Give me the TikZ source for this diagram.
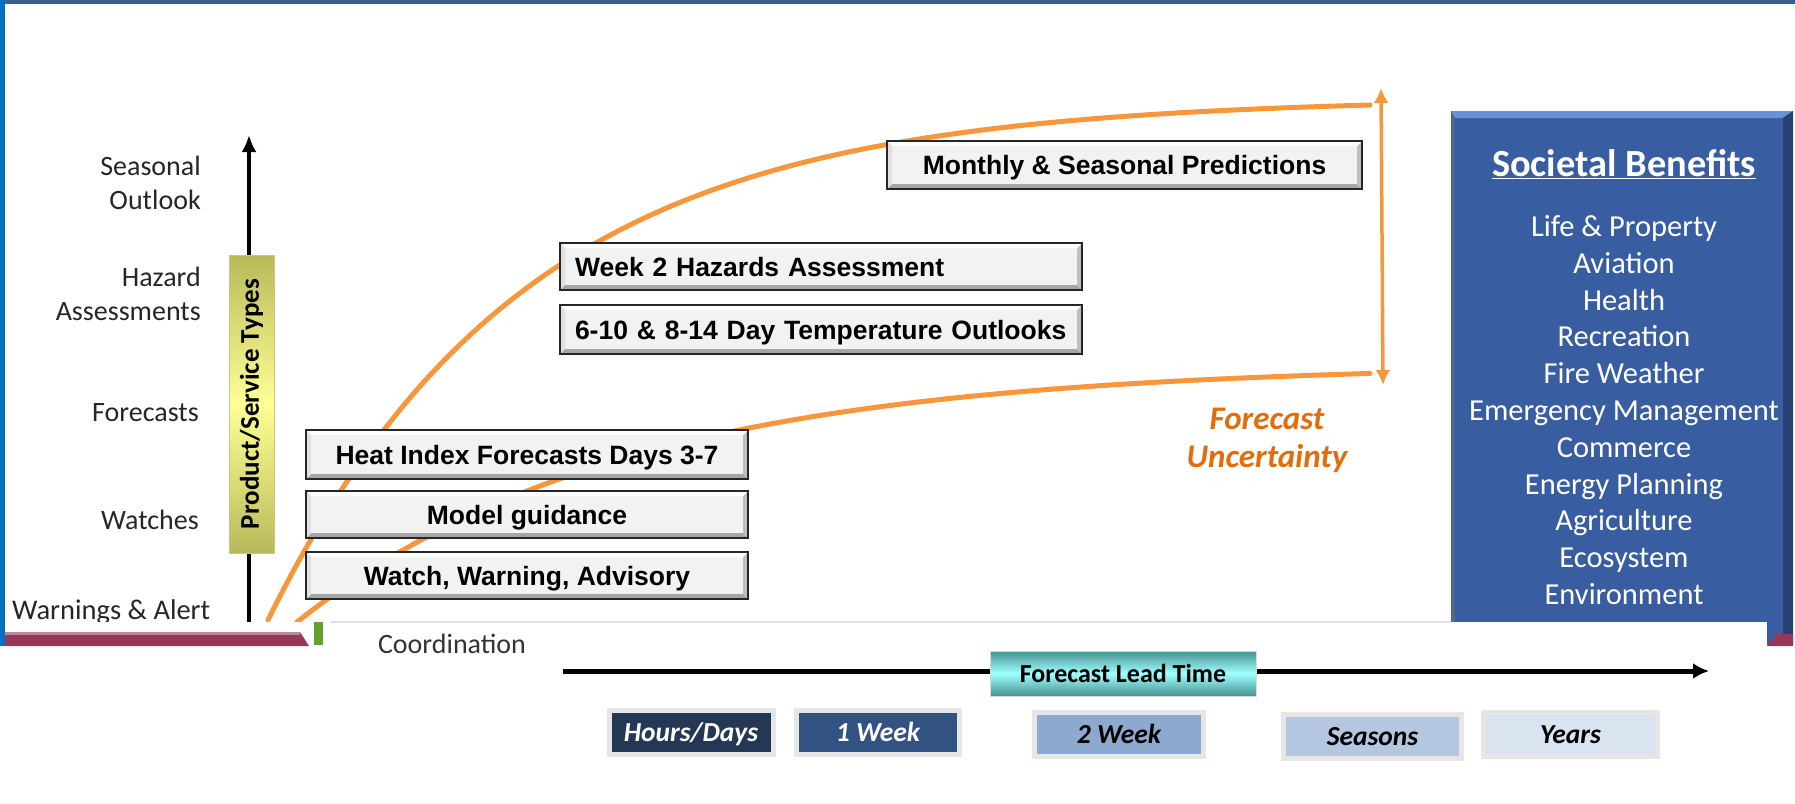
\documentclass[tikz,border=0pt]{standalone}
\usepackage{fontspec}
\setmainfont{Carlito}
\newfontfamily\arialf{Liberation Sans}
\usetikzlibrary{arrows.meta}
\definecolor{orng}{RGB}{248,150,60}
\definecolor{unc}{RGB}{228,108,10}
\definecolor{sbblue}{RGB}{56,93,160}
\definecolor{sblight}{RGB}{105,145,215}
\definecolor{sbdark}{RGB}{38,64,112}
\definecolor{mroon}{RGB}{146,56,88}
\definecolor{topbar}{RGB}{60,95,140}
\definecolor{leftbar}{RGB}{0,112,192}
\definecolor{hdays}{RGB}{36,56,86}
\definecolor{wkone}{RGB}{50,82,130}
\definecolor{wktwo}{RGB}{142,169,208}
\definecolor{seas}{RGB}{180,198,224}
\definecolor{yrs}{RGB}{218,227,240}
\definecolor{frm}{RGB}{230,230,230}
\definecolor{yedge}{RGB}{185,185,90}
\definecolor{ymid}{RGB}{255,255,150}
\definecolor{cedge}{RGB}{70,145,145}
\definecolor{cmid}{RGB}{160,255,255}
\definecolor{grn}{RGB}{100,160,50}
\tikzset{
  prodbox/.style={draw=black!85, line width=2.5pt, fill=black!5, inner sep=0pt,
    text height=19pt, text depth=0pt,
    font=\arialf\bfseries\fontsize{26.5}{30}\selectfont,
    path picture={
      \fill[black!35] (path picture bounding box.south west) -- (path picture bounding box.south east)
        -- ([shift={(-5pt,5pt)}]path picture bounding box.south east) -- ([shift={(5pt,5pt)}]path picture bounding box.south west) -- cycle;
      \fill[black!25] (path picture bounding box.south east) -- (path picture bounding box.north east)
        -- ([shift={(-5pt,-5pt)}]path picture bounding box.north east) -- ([shift={(-5pt,5pt)}]path picture bounding box.south east) -- cycle;
      \fill[white] (path picture bounding box.north west) -- (path picture bounding box.north east)
        -- ([shift={(-5pt,-5pt)}]path picture bounding box.north east) -- ([shift={(5pt,-5pt)}]path picture bounding box.north west) -- cycle;
      \fill[black!12] (path picture bounding box.north west) -- (path picture bounding box.south west)
        -- ([shift={(5pt,5pt)}]path picture bounding box.south west) -- ([shift={(5pt,-5pt)}]path picture bounding box.north west) -- cycle;
    }},
  leftlab/.style={anchor=east, inner sep=0pt, text height=18pt, text depth=0pt,
    font=\fontsize{28}{33}\selectfont, text=black!85},
  timebox/.style={draw=frm, line width=5pt, inner sep=0pt, minimum height=44pt,
    text height=18pt, text depth=0pt, font=\bfseries\itshape\fontsize{27.5}{30}\selectfont},
  sbitem/.style={inner sep=0pt, text=white, text height=19pt, text depth=0pt, font=\fontsize{30.5}{36}\selectfont},
  curve/.style={orng, line width=5pt, line cap=round}
}
\begin{document}
\begin{tikzpicture}[x=1pt,y=-1pt]
\useasboundingbox (0,0) rectangle (1795,803);
\fill[white] (0,0) rectangle (1795,803);

% left labels
\node[leftlab] (l1a) at (201,166) {Seasonal};
\node[leftlab] (l1b) at (201,200) {Outlook};
\node[leftlab] (l2a) at (201,277) {Hazard};
\node[leftlab] (l2b) at (201,311) {Assessments};
\node[leftlab] (l3) at (199,412) {Forecasts};
\node[leftlab] (l4) at (199,520) {Watches};
\node[leftlab, anchor=west, font=\fontsize{28.5}{33}\selectfont] (l5) at (12,610) {Warnings \& Alert};

% vertical axis
\coordinate (vb) at (249,624);
\coordinate (vt) at (249,135);
\draw[line width=4pt,-{Latex[length=17pt,width=15pt]}] (vb) -- (vt);
\node[rotate=90, minimum width=298pt, minimum height=45pt, inner sep=0pt,
  top color=yedge, bottom color=yedge, middle color=ymid, draw=yedge!80, line width=0.5pt,
  font=\bfseries\fontsize{27}{30}\selectfont] (pst) at (251.5,404) {Product/Service Types};

% orange curves
\draw[curve] plot[domain=268:1370, samples=120] (\x, {98+524*exp(-0.0039*(\x-267))});
\draw[curve] plot[domain=297:1370, samples=120] (\x, {364+258*exp(-0.00308*(\x-297))});
\coordinate (ua) at (1381,88);
\coordinate (la) at (1383,385);
\draw[orng, line width=3.5pt, {Latex[length=15pt,width=15pt]}-{Latex[length=15pt,width=15pt]}] (ua) -- (la);
\node[align=center, text=unc, inner sep=0pt, font=\bfseries\itshape\fontsize{33}{38}\selectfont] (fu) at (1267,440) {Forecast\\Uncertainty};

% product boxes
\node[prodbox, minimum width=475pt, minimum height=48pt] (msp) at (1124.5,165) {Monthly \& Seasonal Predictions};
\node[prodbox, minimum height=47pt, text width=492pt, inner xsep=15pt, align=left] (w2h) at (821,266.5) {Week 2 Hazards Assessment};
\node[prodbox, minimum height=49pt, text width=492pt, inner xsep=15pt, align=left] (t614) at (821,329.5) {6-10 \& 8-14 Day Temperature Outlooks};
\node[prodbox, minimum width=442pt, minimum height=49pt] (hif) at (527,454.5) {Heat Index Forecasts Days 3-7};
\node[prodbox, minimum width=442pt, minimum height=47pt] (mg) at (527,514.5) {Model guidance};
\node[prodbox, minimum width=442pt, minimum height=47pt] (wwa) at (527,575.5) {Watch, Warning, Advisory};

% societal benefits
\node[minimum width=342pt, minimum height=534pt, inner sep=0pt, fill=sbblue,
  path picture={
    \fill[sblight] (path picture bounding box.north west) -- (path picture bounding box.north east)
      -- ([shift={(-10pt,-7pt)}]path picture bounding box.north east) -- ([shift={(4pt,-7pt)}]path picture bounding box.north west) -- cycle;
    \fill[sbdark] (path picture bounding box.north east) -- (path picture bounding box.south east)
      -- ([shift={(-10pt,12pt)}]path picture bounding box.south east) -- ([shift={(-10pt,-7pt)}]path picture bounding box.north east) -- cycle;
    \fill[sbdark!80] (path picture bounding box.north west) -- (path picture bounding box.south west)
      -- ([shift={(4pt,0pt)}]path picture bounding box.south west) -- ([shift={(4pt,-7pt)}]path picture bounding box.north west) -- cycle;
  }] (sb) at (1622,378) {};
\node[inner sep=0pt, text=white, font=\bfseries\fontsize{38.4}{44}\selectfont] (sbt) at (1624,164) {\underline{Societal Benefits}};
\foreach \t [count=\i] in {Life \& Property, Aviation, Health, Recreation, Fire Weather, Emergency Management, Commerce, Energy Planning, Agriculture, Ecosystem, Environment}
  \node[sbitem] (sb\i) at ({1624},{190.2+36.8*\i}) {\t};

% white band and bottom strip artefacts
\fill[white] (4.5,622) rectangle (1767,650);
\draw[black!12, line width=1.5pt] (330,622) -- (1451,622);
\fill[mroon] (4.5,632) -- (300,632) -- (309,646) -- (4.5,646) -- cycle;
\fill[mroon!60] (4.5,632) rectangle (300,634.5);
\fill[grn] (314,622) rectangle (323,645);
\fill[mroon] (1767,646) -- (1777,634) -- (1793,634) -- (1793,646) -- cycle;
\node[inner sep=0pt, text=black!80, font=\fontsize{28}{32}\selectfont] (coord) at (452,644) {Coordination};

% lead time axis
\coordinate (ha) at (563,671);
\coordinate (hb) at (1709,671);
\draw[line width=5pt,-{Latex[length=16pt,width=16pt]}] (ha) -- (hb);
\node[minimum width=266pt, minimum height=45pt, inner sep=0pt, top color=cedge, bottom color=cedge, middle color=cmid,
  draw=black!15, line width=1pt, text height=17pt, text depth=0pt,
  font=\bfseries\fontsize{26}{30}\selectfont] (flt) at (1123,673.5) {Forecast Lead Time};

% time boxes
\node[timebox, fill=hdays, text=white, minimum width=164pt] (hd) at (691,732) {Hours/Days};
\node[timebox, fill=wkone, text=white, minimum width=163pt] (w1) at (878,732) {1 Week};
\node[timebox, fill=wktwo, text=black, minimum width=169pt] (w2) at (1119,734) {2 Week};
\node[timebox, fill=seas, text=black, minimum width=178pt] (se) at (1372.5,736) {Seasons};
\node[timebox, fill=yrs, text=black, minimum width=174pt] (yr) at (1570.5,734) {Years};

% frame
\fill[topbar] (0,0) rectangle (1795,3.5);
\fill[leftbar] (0,0) rectangle (4.5,646);
\end{tikzpicture}
\end{document}
